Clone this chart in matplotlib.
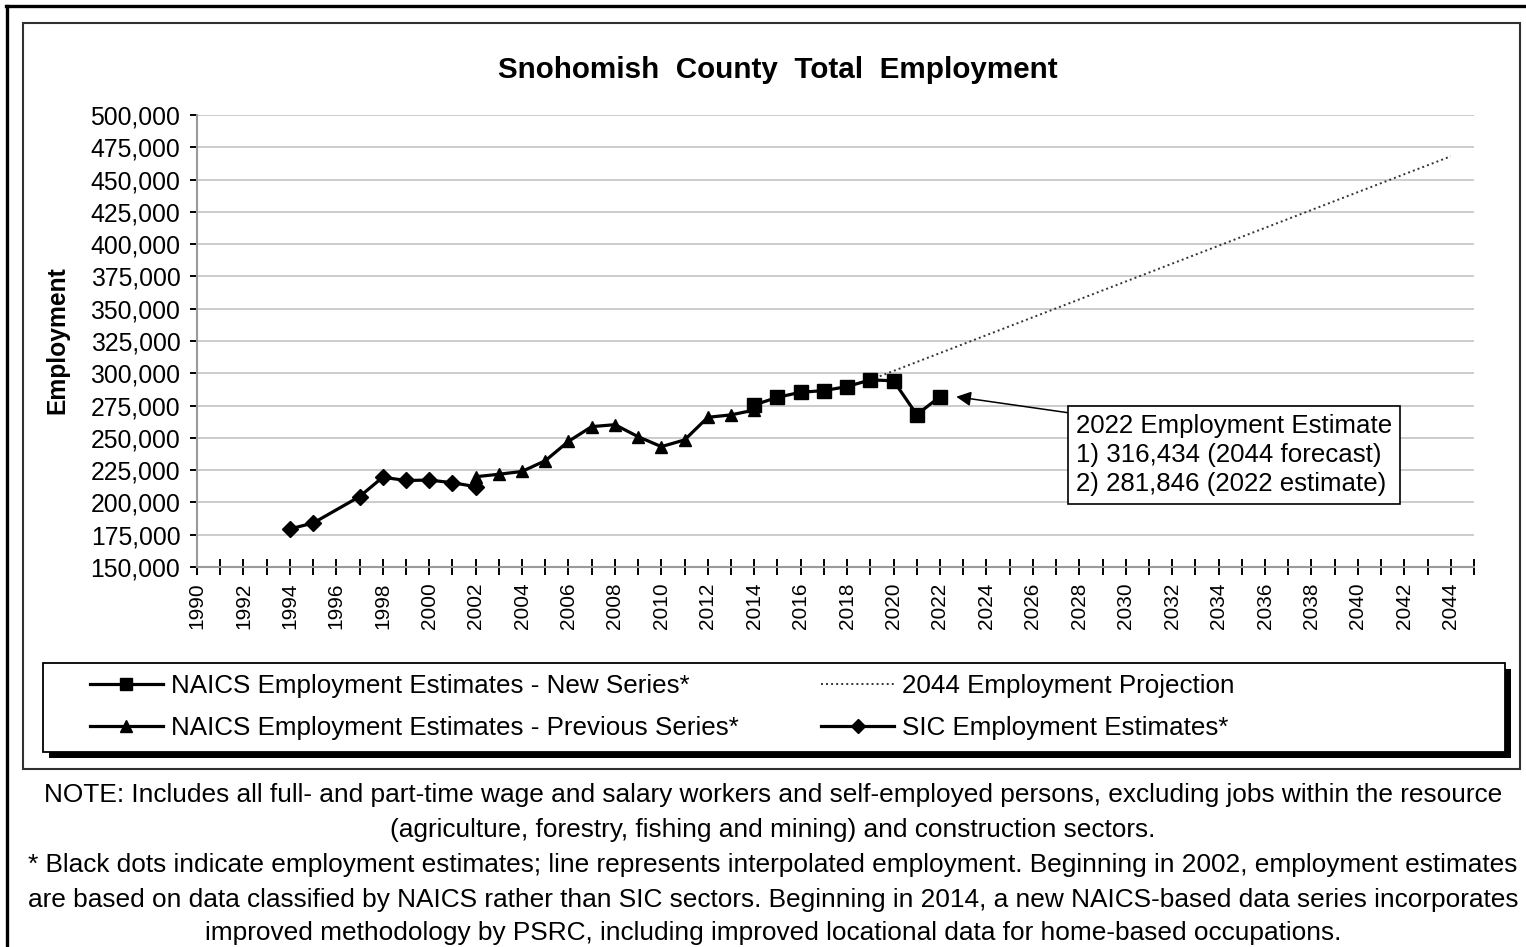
import matplotlib
matplotlib.use("Agg")
import matplotlib.pyplot as plt
from matplotlib.patches import Rectangle
from matplotlib.lines import Line2D
from matplotlib.ticker import FuncFormatter, FixedLocator

plt.rcParams['font.family'] = ['Liberation Sans', 'DejaVu Sans']

# ---------------- data ----------------
sic_years = [1994, 1995, 1997, 1998, 1999, 2000, 2001, 2002]
sic_values = [179500, 184000, 204500, 219500, 217000, 217300, 215300, 212200]

prev_years = [2002, 2003, 2004, 2005, 2006, 2007, 2008, 2009, 2010, 2011, 2012, 2013, 2014]
prev_values = [219900, 221800, 224000, 232300, 247300, 258700, 260200, 250900,
               243200, 248400, 265900, 267800, 271500]

new_years = [2014, 2015, 2016, 2017, 2018, 2019, 2020, 2021, 2022]
new_values = [275500, 281400, 285300, 286600, 289700, 294900, 294200, 268000, 281846]

proj_years = [2019, 2044]
proj_values = [294900, 468000]

title = "Snohomish  County  Total  Employment"
y_label = "Employment"
legend_labels = ["NAICS Employment Estimates - New Series*",
                 "NAICS Employment Estimates - Previous Series*",
                 "2044 Employment Projection",
                 "SIC Employment Estimates*"]
annot_text = "2022 Employment Estimate\n1) 316,434 (2044 forecast)\n2) 281,846 (2022 estimate)"
note_lines = [
    "NOTE: Includes all full- and part-time wage and salary workers and self-employed persons, excluding jobs within the resource",
    "(agriculture, forestry, fishing and mining) and construction sectors.",
    "* Black dots indicate employment estimates; line represents interpolated employment. Beginning in 2002, employment estimates",
    "are based on data classified by NAICS rather than SIC sectors. Beginning in 2014, a new NAICS-based data series incorporates",
    "improved methodology by PSRC, including improved locational data for home-based occupations.",
]

# ---------------- figure ----------------
W, H = 1526, 947
fig = plt.figure(figsize=(W / 100, H / 100), dpi=100)


def fx(x):
    return x / W


def fy(y):
    return 1 - y / H


# outer frame (thick) and inner chart frame
fig.add_artist(Line2D([fx(6.5), fx(6.5)], [fy(6), fy(947)], color='black', lw=2.4))
fig.add_artist(Line2D([fx(6), fx(1526)], [fy(6.5), fy(6.5)], color='black', lw=2.4))
fig.add_artist(Rectangle((fx(22.5), fy(769)), fx(1520) - fx(22.5), fy(22.5) - fy(769),
                         transform=fig.transFigure, fill=False, ec='#303030', lw=1.5))

ax = fig.add_axes([fx(197), fy(567), fx(1474) - fx(197), fy(115) - fy(567)])
ax.set_xlim(1990, 2045)
ax.set_ylim(150000, 500000)

ax.plot(proj_years, proj_values, color='#333333', lw=1.4, ls=(0, (1, 1.6)), zorder=2)
ax.plot(sic_years, sic_values, color='black', lw=2.3, marker='D', ms=8, zorder=3)
ax.plot(prev_years, prev_values, color='black', lw=2.3, marker='^', ms=9, zorder=3)
ax.plot(new_years, new_values, color='black', lw=2.3, marker='s', ms=9.5, zorder=4)

# grid and axes styling
ax.set_yticks(range(150000, 500001, 25000))
ax.yaxis.set_major_formatter(FuncFormatter(lambda v, p: f"{int(v):,}"))
ax.grid(axis='y', color='#c8c8c8', lw=1.3)
ax.set_axisbelow(True)
for s in ['top', 'right']:
    ax.spines[s].set_visible(False)
for s in ['left', 'bottom']:
    ax.spines[s].set_color('#9a9a9a')
    ax.spines[s].set_linewidth(1.5)

ax.xaxis.set_major_locator(FixedLocator(list(range(1990, 2045, 2))))
ax.xaxis.set_minor_locator(FixedLocator(list(range(1991, 2046, 2))))
ax.tick_params(axis='x', which='both', direction='inout', length=12, width=1.4,
               color='black', pad=5)
ax.tick_params(axis='x', which='major', labelsize=15, labelrotation=90)
ax.tick_params(axis='y', direction='out', length=5, width=1.4, color='black',
               labelsize=17.8, pad=7)

fig.text(fx(778), fy(70), title, ha='center', va='center', fontsize=21.3,
         fontweight='bold')
fig.text(fx(57), fy(340), y_label, ha='center', va='center', rotation=90,
         fontsize=17.7, fontweight='bold')

# annotation
ax.annotate(annot_text, xy=(2022.7, new_values[-1]),
            xytext=(fx(1076), fy(455)), textcoords='figure fraction',
            ha='left', va='center', fontsize=18.6, linespacing=1.27,
            bbox=dict(boxstyle='square,pad=0.3', fc='white', ec='black', lw=1.2),
            arrowprops=dict(arrowstyle='-|>', color='black', lw=1.1, relpos=(0, 1),
                            shrinkA=0, shrinkB=0, mutation_scale=22, patchA=None))

# legend frame with shadow
fig.add_artist(Rectangle((fx(49), fy(758)), fx(1511) - fx(49), fy(669) - fy(758),
                         transform=fig.transFigure, fc='black', ec='black', lw=0))
fig.add_artist(Rectangle((fx(43), fy(752)), fx(1505) - fx(43), fy(663) - fy(752),
                         transform=fig.transFigure, fc='white', ec='black', lw=1.3))

h_new = Line2D([], [], color='black', lw=2.3, marker='s', ms=8)
h_prev = Line2D([], [], color='black', lw=2.3, marker='^', ms=8)
h_proj = Line2D([], [], color='#333333', lw=1.4, ls=(0, (1, 1.6)))
h_sic = Line2D([], [], color='black', lw=2.3, marker='D', ms=7)
leg = fig.legend([h_new, h_prev, h_proj, h_sic], legend_labels, ncol=2,
                 loc='center left', bbox_to_anchor=(fx(90), fy(707)),
                 frameon=False, fontsize=18.7, handlelength=2.8, handletextpad=0.3,
                 columnspacing=3.2, labelspacing=0.68, borderpad=0, borderaxespad=0)

# notes
note_y = [795, 830, 865, 900, 933]
for line, yy in zip(note_lines, note_y):
    fig.text(fx(773), fy(yy), line, ha='center', va='center', fontsize=18.9)

fig.savefig("out.png", dpi=100)
